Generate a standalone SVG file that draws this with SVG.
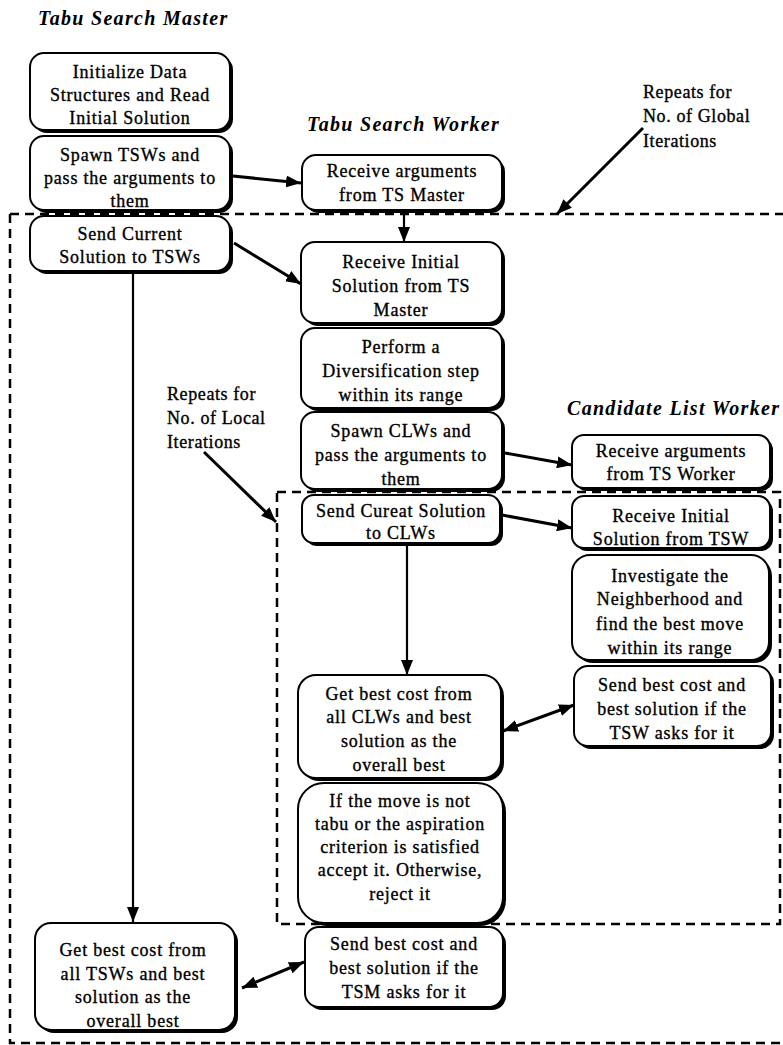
<svg xmlns="http://www.w3.org/2000/svg" width="783" height="1045" viewBox="0 0 783 1045">
<style>
.t{font-family:"Liberation Serif","Times New Roman",serif;font-size:18px;letter-spacing:0.8px;fill:#000;stroke:#000;stroke-width:0.35;text-anchor:middle}
.lbl{font-family:"Liberation Serif","Times New Roman",serif;font-size:18px;letter-spacing:0.6px;fill:#000;stroke:#000;stroke-width:0.35}
.title{font-family:"Liberation Serif","Times New Roman",serif;font-size:20px;font-weight:bold;font-style:italic;letter-spacing:1.3px;fill:#000}
.box{fill:#fff;stroke:#000;stroke-width:2}
.sh{fill:#000}
.dash{fill:none;stroke:#000;stroke-width:2.5;stroke-dasharray:9 6}
.c{fill:none;stroke:#000;stroke-width:3}
.cv{fill:none;stroke:#000;stroke-width:2.2}
</style>
<defs>
<marker id="ah" markerUnits="userSpaceOnUse" markerWidth="16" markerHeight="12" refX="15" refY="6" orient="auto-start-reverse">
<path d="M0,0 L15,6 L0,12 z" fill="#000"/>
</marker>
</defs>

<g id="frames">
<path class="dash" d="M10,214 H783 M10,214 V1043 H783"/>
<path class="dash" d="M277,492 H780 V924 H277 Z"/>
</g>

<g id="titles">
<text class="title" x="38" y="25">Tabu Search Master</text>
<text class="title" x="307" y="131">Tabu Search Worker</text>
<text class="title" x="567" y="415">Candidate List Worker</text>
</g>

<g id="connectors">
<line class="c" x1="233" y1="176" x2="301" y2="183" marker-end="url(#ah)"/>
<line class="cv" x1="404" y1="213" x2="404" y2="242" marker-end="url(#ah)"/>
<line class="c" x1="234" y1="243" x2="301" y2="284" marker-end="url(#ah)"/>
<line class="cv" x1="133" y1="273" x2="133" y2="922" marker-end="url(#ah)"/>
<line class="c" x1="505" y1="453" x2="572" y2="465" marker-end="url(#ah)"/>
<line class="c" x1="502" y1="515" x2="572" y2="528" marker-end="url(#ah)"/>
<line class="cv" x1="407" y1="545" x2="407" y2="675" marker-end="url(#ah)"/>
<line class="c" x1="503" y1="731" x2="574" y2="705" marker-start="url(#ah)" marker-end="url(#ah)"/>
<line class="c" x1="242" y1="988" x2="304" y2="962" marker-start="url(#ah)" marker-end="url(#ah)"/>
<line class="c" x1="643" y1="128" x2="557" y2="214" marker-end="url(#ah)"/>
<line class="c" x1="204" y1="452" x2="276" y2="522" marker-end="url(#ah)"/>
</g>

<g id="labels">
<text class="lbl" x="643" y="98">Repeats for</text>
<text class="lbl" x="643" y="122">No. of Global</text>
<text class="lbl" x="643" y="147">Iterations</text>
<text class="lbl" x="167" y="400">Repeats for</text>
<text class="lbl" x="167" y="424">No. of Local</text>
<text class="lbl" x="167" y="448">Iterations</text>
</g>

<g id="tsm-init">
<rect class="sh" x="33" y="56" width="200" height="77" rx="14"/>
<rect class="box" x="30" y="53" width="200" height="77" rx="14"/>
<text class="t" x="130" y="78">Initialize Data</text>
<text class="t" x="130" y="101">Structures and Read</text>
<text class="t" x="130" y="124">Initial Solution</text>
</g>
<g id="tsm-spawn">
<rect class="sh" x="33" y="139" width="200" height="74" rx="14"/>
<rect class="box" x="30" y="136" width="200" height="74" rx="14"/>
<text class="t" x="130" y="161">Spawn TSWs and</text>
<text class="t" x="130" y="184">pass the arguments to</text>
<text class="t" x="130" y="207">them</text>
</g>
<g id="tsm-send">
<rect class="sh" x="33" y="219" width="200" height="55" rx="14"/>
<rect class="box" x="30" y="216" width="200" height="55" rx="14"/>
<text class="t" x="130" y="240">Send Current</text>
<text class="t" x="130" y="263">Solution to TSWs</text>
</g>
<g id="tsm-best">
<rect class="sh" x="38" y="926" width="200" height="107" rx="16"/>
<rect class="box" x="35" y="923" width="200" height="107" rx="16"/>
<text class="t" x="133" y="956">Get best cost from</text>
<text class="t" x="133" y="980">all TSWs and best</text>
<text class="t" x="133" y="1003">solution as the</text>
<text class="t" x="133" y="1027">overall best</text>
</g>

<g id="tsw-recv-args">
<rect class="sh" x="305" y="158" width="200" height="55" rx="14"/>
<rect class="box" x="302" y="155" width="200" height="55" rx="14"/>
<text class="t" x="402" y="177">Receive arguments</text>
<text class="t" x="402" y="201">from TS Master</text>
</g>
<g id="tsw-recv-init">
<rect class="sh" x="304" y="245" width="201" height="81" rx="14"/>
<rect class="box" x="301" y="242" width="201" height="81" rx="14"/>
<text class="t" x="401" y="268">Receive Initial</text>
<text class="t" x="401" y="292">Solution from TS</text>
<text class="t" x="401" y="316">Master</text>
</g>
<g id="tsw-divers">
<rect class="sh" x="304" y="331" width="201" height="80" rx="14"/>
<rect class="box" x="301" y="328" width="201" height="80" rx="14"/>
<text class="t" x="401" y="353">Perform a</text>
<text class="t" x="401" y="377">Diversification step</text>
<text class="t" x="401" y="401">within its range</text>
</g>
<g id="tsw-spawn">
<rect class="sh" x="304" y="415" width="201" height="77" rx="14"/>
<rect class="box" x="301" y="412" width="201" height="77" rx="14"/>
<text class="t" x="401" y="437">Spawn CLWs and</text>
<text class="t" x="401" y="461">pass the arguments to</text>
<text class="t" x="401" y="485">them</text>
</g>
<g id="tsw-send">
<rect class="sh" x="305" y="498" width="198" height="48" rx="12"/>
<rect class="box" x="302" y="495" width="198" height="48" rx="12"/>
<text class="t" x="401" y="517">Send Cureat Solution</text>
<text class="t" x="401" y="539">to CLWs</text>
</g>
<g id="tsw-best">
<rect class="sh" x="301" y="678" width="203" height="103" rx="18"/>
<rect class="box" x="298" y="675" width="203" height="103" rx="18"/>
<text class="t" x="399" y="700">Get best cost from</text>
<text class="t" x="399" y="723">all CLWs and best</text>
<text class="t" x="399" y="747">solution as the</text>
<text class="t" x="399" y="771">overall best</text>
</g>
<g id="tsw-accept">
<rect class="sh" x="301" y="786" width="205" height="140" rx="26"/>
<rect class="box" x="298" y="783" width="205" height="140" rx="26"/>
<text class="t" x="400" y="807">If the move is not</text>
<text class="t" x="400" y="830">tabu or the aspiration</text>
<text class="t" x="400" y="853">criterion is satisfied</text>
<text class="t" x="400" y="876">accept it. Otherwise,</text>
<text class="t" x="400" y="900">reject it</text>
</g>
<g id="tsw-send-best">
<rect class="sh" x="308" y="930" width="198" height="80" rx="14"/>
<rect class="box" x="305" y="927" width="198" height="80" rx="14"/>
<text class="t" x="404" y="950">Send best cost and</text>
<text class="t" x="404" y="974">best solution if the</text>
<text class="t" x="404" y="998">TSM asks for it</text>
</g>

<g id="clw-recv-args">
<rect class="sh" x="575" y="438" width="198" height="53" rx="12"/>
<rect class="box" x="572" y="435" width="198" height="53" rx="12"/>
<text class="t" x="671" y="457">Receive arguments</text>
<text class="t" x="671" y="480">from TS Worker</text>
</g>
<g id="clw-recv-init">
<rect class="sh" x="575" y="499" width="198" height="52" rx="12"/>
<rect class="box" x="572" y="496" width="198" height="52" rx="12"/>
<text class="t" x="671" y="522">Receive Initial</text>
<text class="t" x="671" y="545">Solution from TSW</text>
</g>
<g id="clw-investigate">
<rect class="sh" x="575" y="558" width="197" height="105" rx="18"/>
<rect class="box" x="572" y="555" width="197" height="105" rx="18"/>
<text class="t" x="670" y="582">Investigate the</text>
<text class="t" x="670" y="605">Neighberhood and</text>
<text class="t" x="670" y="630">find the best move</text>
<text class="t" x="670" y="654">within its range</text>
</g>
<g id="clw-send-best">
<rect class="sh" x="577" y="669" width="197" height="80" rx="14"/>
<rect class="box" x="574" y="666" width="197" height="80" rx="14"/>
<text class="t" x="672" y="691">Send best cost and</text>
<text class="t" x="672" y="715">best solution if the</text>
<text class="t" x="672" y="739">TSW asks for it</text>
</g>
</svg>
